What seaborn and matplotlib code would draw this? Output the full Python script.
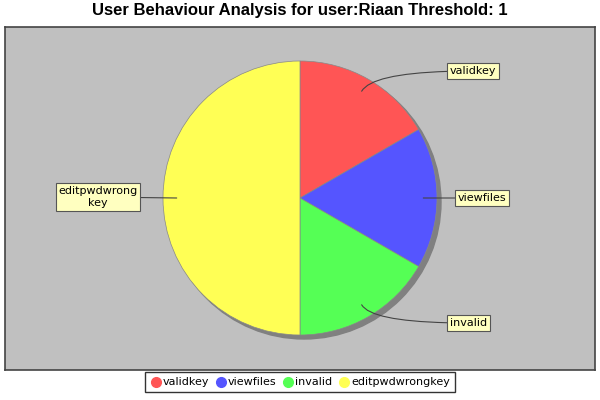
import numpy as np
import matplotlib
matplotlib.use('Agg')
import matplotlib.pyplot as plt
from matplotlib.patches import Circle
from matplotlib.lines import Line2D
import seaborn as sns

sns.set_theme(style='white')
plt.rcParams['font.family'] = ['DejaVu Sans']
plt.rcParams['text.color'] = 'black'

# data
labels = ['validkey', 'viewfiles', 'invalid', 'editpwdwrongkey']
counts = [1, 1, 1, 3]
colors = ['#FF5555', '#5555FF', '#55FF55', '#FFFF55']
box_text = ['validkey', 'viewfiles', 'invalid', 'editpwdwrong\nkey']

fig = plt.figure(figsize=(6, 4), dpi=100)
fig.patch.set_facecolor('white')

# plot area in pixel units: 590 x 343
ax = fig.add_axes([5 / 600, 30 / 400, 590 / 600, 343 / 400])
ax.set_facecolor('#C0C0C0')
cx, cy, r = 295, 172, 137

# shadow
ax.add_patch(Circle((cx + 4, cy - 4), r, color='#808080', zorder=1))
wedges, _ = ax.pie(counts, colors=colors, startangle=90, counterclock=False,
                   center=(cx, cy), radius=r, frame=True,
                   wedgeprops=dict(edgecolor='#888888', linewidth=0.5, zorder=2))
ax.set_xlim(0, 590)
ax.set_ylim(0, 343)
ax.set_aspect('auto')
ax.set_xticks([])
ax.set_yticks([])
for s in ax.spines.values():
    s.set_color('#444444')
    s.set_linewidth(1.2)

# label boxes (pixel positions within the plot area)
label_pos = [(445, 299), (453, 172), (445, 47), (93, 173)]
for w, txt, (lx, ly) in zip(wedges, box_text, label_pos):
    mid = np.deg2rad((w.theta1 + w.theta2) / 2)
    ax_x = cx + 0.9 * r * np.cos(mid)
    ax_y = cy + 0.9 * r * np.sin(mid)
    ang = np.rad2deg(mid)
    if abs(np.sin(mid)) < 0.05:
        style = 'arc3,rad=0'
    else:
        style = f'angle3,angleA=0,angleB={ang:.1f}'
    ha = 'left' if lx > cx else 'center'
    ax.annotate(txt, xy=(ax_x, ax_y), xytext=(lx, ly), ha=ha, va='center',
                fontsize=8, color='black', zorder=5, multialignment='center',
                bbox=dict(boxstyle='square,pad=0.25', fc='#FFFFC0', ec='#555555', lw=0.8),
                arrowprops=dict(arrowstyle='-', color='#444444', lw=0.8,
                                connectionstyle=style, shrinkA=0, shrinkB=0))

fig.suptitle('User Behaviour Analysis for user:Riaan Threshold: 1',
             fontsize=12, fontweight='bold', family=['Liberation Sans', 'DejaVu Sans'],
             color='black', y=0.993, va='top')

handles = [Line2D([0], [0], marker='o', linestyle='', markersize=7,
                  markerfacecolor=c, markeredgecolor=c) for c in colors]
leg = fig.legend(handles, labels, loc='lower center', bbox_to_anchor=(0.5, 0.005),
                 ncol=4, fontsize=8, frameon=True, fancybox=False,
                 handletextpad=0.1, columnspacing=0.6, handlelength=1.0,
                 borderpad=0.45, labelcolor='black')
leg.get_frame().set_edgecolor('black')
leg.get_frame().set_linewidth(1.0)

fig.savefig('out.png', dpi=100)
